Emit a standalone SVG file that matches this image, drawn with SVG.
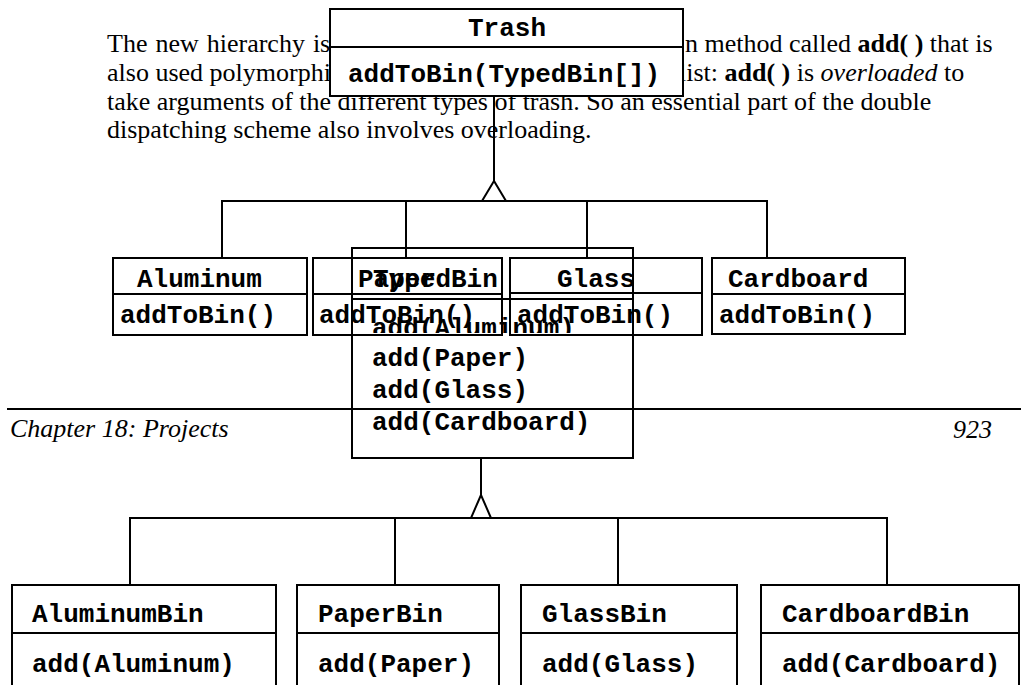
<svg xmlns="http://www.w3.org/2000/svg" width="1021" height="685" viewBox="0 0 1021 685">
<style>
.body{font-family:"Liberation Serif","Times New Roman",serif;font-size:26px;fill:#000}
.it{font-style:italic}
.b{font-weight:bold}
.mono{font-family:"Liberation Mono","Courier New",monospace;font-size:26px;font-weight:bold;fill:#000}
.box{fill:none;stroke:#000;stroke-width:2}
.wbox{fill:#fff;stroke:#000;stroke-width:2}
.ln{fill:none;stroke:#000;stroke-width:2}
.tri{fill:#fff;stroke:#000;stroke-width:2;stroke-linejoin:miter}
</style>
<defs>
<clipPath id="clipAl"><rect x="340" y="300" width="300" height="33"/></clipPath>
</defs>
<rect width="1021" height="685" fill="#fff"/>
<g id="page-text" class="body">
<text x="107" y="52" word-spacing="1.5">The new hierarchy is</text>
<text x="685" y="52">n method called <tspan class="b">add( )</tspan> that is</text>
<text x="107" y="81">also used polymorphi</text>
<text x="679" y="81">list: <tspan class="b">add( )</tspan> is <tspan class="it">overloaded</tspan> to</text>
<text x="107" y="110">take arguments of the different types of trash. So an essential part of the double</text>
<text x="107" y="138">dispatching scheme also involves overloading.</text>
</g>
<g id="footer" class="body">
<line class="ln" x1="7" y1="409" x2="1021" y2="409"/>
<text class="it" x="10" y="437">Chapter 18: Projects</text>
<text class="it" x="992" y="438" text-anchor="end">923</text>
</g>
<g id="trash">
<rect class="wbox" x="330" y="9" width="353" height="87"/>
<line class="ln" x1="330" y1="47" x2="683" y2="47"/>
<text class="mono" x="507" y="36" text-anchor="middle">Trash</text>
<text class="mono" x="348" y="82">addToBin(TypedBin[])</text>
</g>
<g id="connectors">
<polyline class="ln" points="494,96 494,181"/>
<polyline class="ln" points="222,257 222,201 767,201 767,257"/>
<line class="ln" x1="406" y1="201" x2="406" y2="258"/>
<line class="ln" x1="587" y1="201" x2="587" y2="258"/>
<polygon class="tri" points="494,181 482,201 506,201"/>
<polyline class="ln" points="481,458 481,495"/>
<polyline class="ln" points="130,585 130,518 887,518 887,585"/>
<line class="ln" x1="395" y1="518" x2="395" y2="585"/>
<line class="ln" x1="618" y1="518" x2="618" y2="585"/>
<polygon class="tri" points="481,495 471,518 491,518"/>
</g>
<g id="aluminum">
<rect class="box" x="113" y="258" width="194" height="77"/>
<line class="ln" x1="113" y1="294" x2="307" y2="294"/>
<text class="mono" x="137" y="287">Aluminum</text>
<text class="mono" x="120" y="323">addToBin()</text>
</g>
<g id="paper">
<rect class="box" x="313" y="258" width="189" height="77"/>
<line class="ln" x1="313" y1="294" x2="502" y2="294"/>
<text class="mono" x="358" y="287">Paper</text>
<text class="mono" x="319" y="323">addToBin()</text>
</g>
<g id="glass">
<rect class="box" x="510" y="258" width="192" height="77"/>
<line class="ln" x1="510" y1="293" x2="702" y2="293"/>
<text class="mono" x="557" y="287">Glass</text>
<text class="mono" x="517" y="323">addToBin()</text>
</g>
<g id="cardboard">
<rect class="box" x="712" y="258" width="193" height="76"/>
<line class="ln" x1="712" y1="294" x2="905" y2="294"/>
<text class="mono" x="728" y="287">Cardboard</text>
<text class="mono" x="719" y="323">addToBin()</text>
</g>
<g id="typedbin">
<rect class="box" x="352" y="248" width="281" height="210"/>
<line class="ln" x1="352" y1="299" x2="633" y2="299"/>
<text class="mono" x="373" y="287">TypedBin</text>
<text class="mono" x="372" y="336" clip-path="url(#clipAl)">add(Aluminum)</text>
<text class="mono" x="372" y="366">add(Paper)</text>
<text class="mono" x="372" y="398">add(Glass)</text>
<text class="mono" x="372" y="430">add(Cardboard)</text>
</g>
<g id="aluminumbin">
<rect class="box" x="12" y="585" width="264" height="110"/>
<line class="ln" x1="12" y1="633" x2="276" y2="633"/>
<text class="mono" x="32" y="622">AluminumBin</text>
<text class="mono" x="32" y="672">add(Aluminum)</text>
</g>
<g id="paperbin">
<rect class="box" x="297" y="585" width="202" height="110"/>
<line class="ln" x1="297" y1="633" x2="499" y2="633"/>
<text class="mono" x="318" y="622">PaperBin</text>
<text class="mono" x="318" y="672">add(Paper)</text>
</g>
<g id="glassbin">
<rect class="box" x="521" y="585" width="216" height="110"/>
<line class="ln" x1="521" y1="633" x2="737" y2="633"/>
<text class="mono" x="542" y="622">GlassBin</text>
<text class="mono" x="542" y="672">add(Glass)</text>
</g>
<g id="cardboardbin">
<rect class="box" x="761" y="585" width="258" height="110"/>
<line class="ln" x1="761" y1="633" x2="1019" y2="633"/>
<text class="mono" x="782" y="622">CardboardBin</text>
<text class="mono" x="782" y="672">add(Cardboard)</text>
</g>
</svg>
